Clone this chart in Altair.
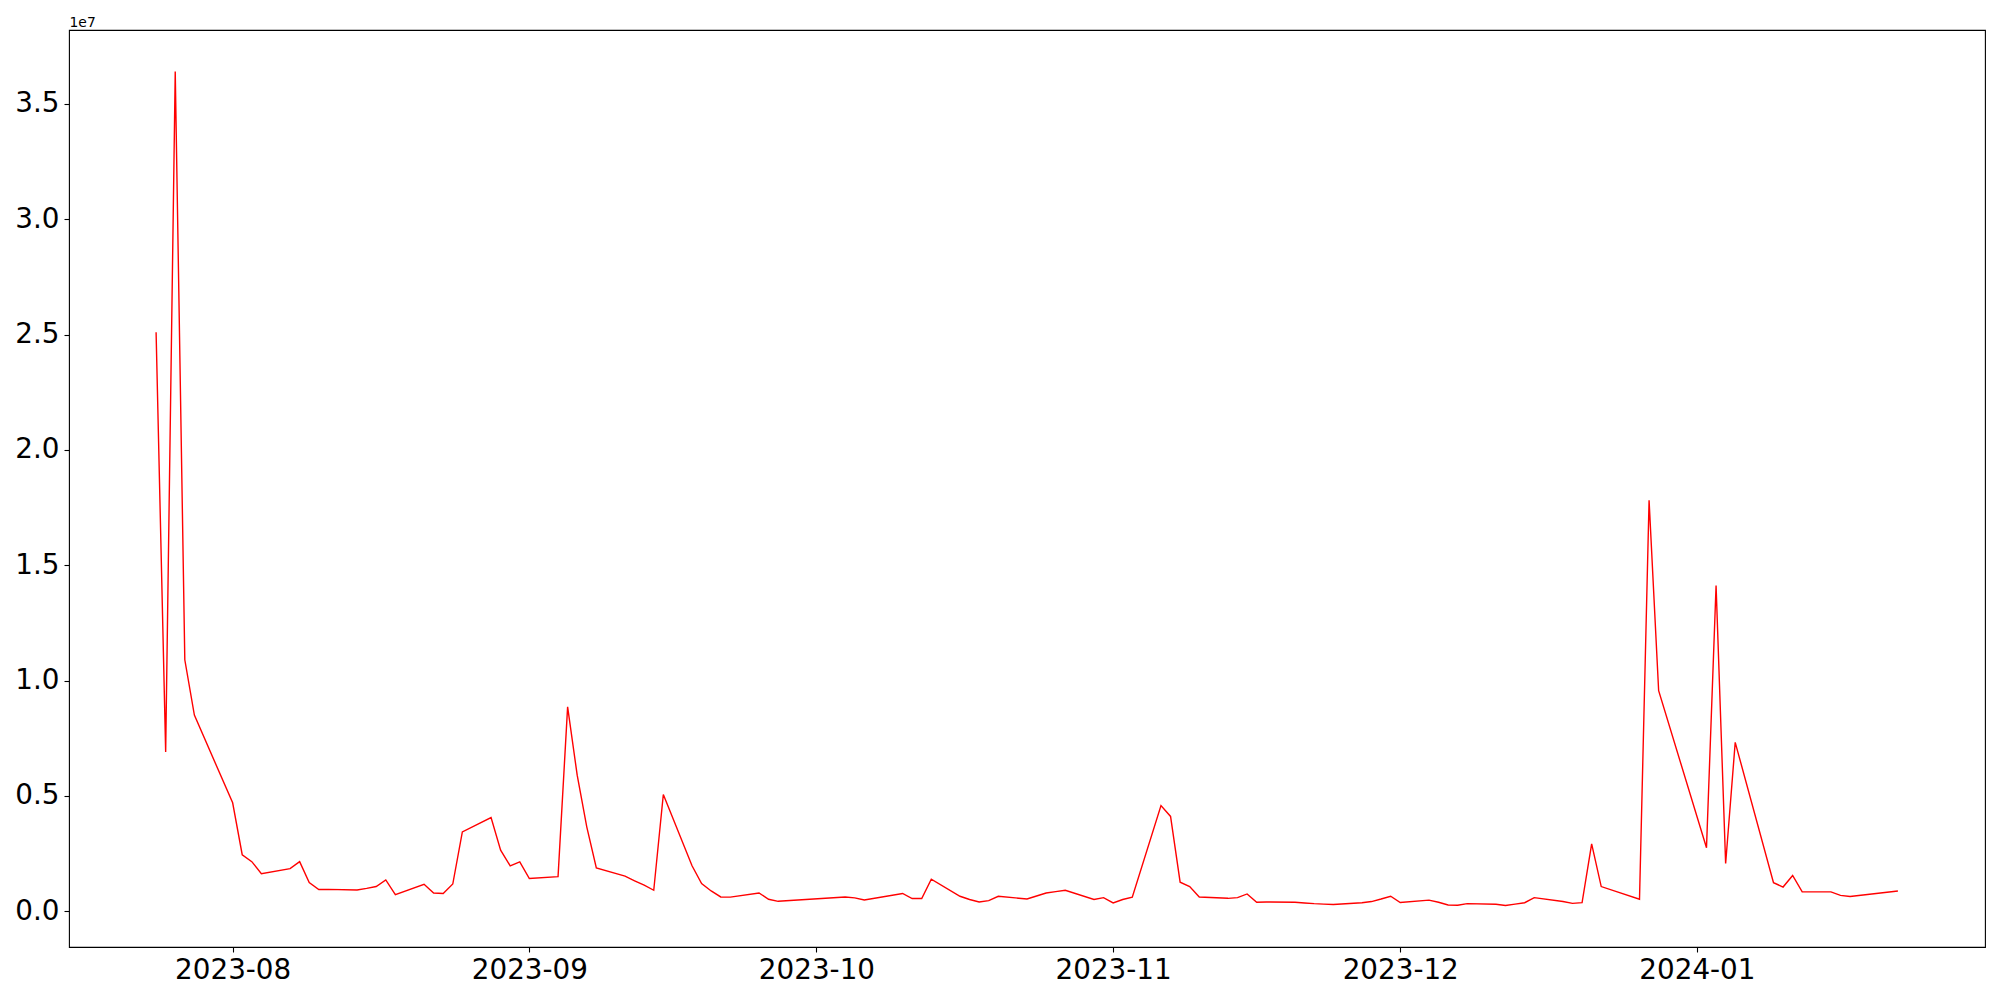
import altair as alt
import pandas as pd

dates = [
    "2023-07-24", "2023-07-25", "2023-07-26", "2023-07-27", "2023-07-28",
    "2023-08-01", "2023-08-02", "2023-08-03", "2023-08-04",
    "2023-08-07", "2023-08-08", "2023-08-09", "2023-08-10", "2023-08-11",
    "2023-08-14", "2023-08-15", "2023-08-16", "2023-08-17", "2023-08-18",
    "2023-08-21", "2023-08-22", "2023-08-23", "2023-08-24", "2023-08-25",
    "2023-08-28", "2023-08-29", "2023-08-30", "2023-08-31", "2023-09-01",
    "2023-09-04", "2023-09-05", "2023-09-06", "2023-09-07", "2023-09-08",
    "2023-09-11", "2023-09-12", "2023-09-13", "2023-09-14", "2023-09-15",
    "2023-09-18", "2023-09-19", "2023-09-20", "2023-09-21", "2023-09-22",
    "2023-09-25", "2023-09-26", "2023-09-27",
    "2023-10-04", "2023-10-05", "2023-10-06",
    "2023-10-10", "2023-10-11", "2023-10-12", "2023-10-13",
    "2023-10-16", "2023-10-17", "2023-10-18", "2023-10-19", "2023-10-20",
    "2023-10-23", "2023-10-24", "2023-10-25", "2023-10-26", "2023-10-27",
    "2023-10-30", "2023-10-31", "2023-11-01", "2023-11-02", "2023-11-03",
    "2023-11-06", "2023-11-07", "2023-11-08", "2023-11-09", "2023-11-10",
    "2023-11-13", "2023-11-14", "2023-11-15", "2023-11-16", "2023-11-17",
    "2023-11-20", "2023-11-21", "2023-11-22", "2023-11-23", "2023-11-24",
    "2023-11-27", "2023-11-28", "2023-11-29", "2023-11-30", "2023-12-01",
    "2023-12-04", "2023-12-05", "2023-12-06", "2023-12-07", "2023-12-08",
    "2023-12-11", "2023-12-12", "2023-12-13", "2023-12-14", "2023-12-15",
    "2023-12-18", "2023-12-19", "2023-12-20", "2023-12-21", "2023-12-22",
    "2023-12-26", "2023-12-27", "2023-12-28",
    "2024-01-02", "2024-01-03", "2024-01-04", "2024-01-05",
    "2024-01-09", "2024-01-10", "2024-01-11", "2024-01-12",
    "2024-01-15", "2024-01-16", "2024-01-17",
    "2024-01-22",
]

values = [
    25.10e6, 6.90e6, 36.40e6, 10.90e6, 8.50e6,
    4.70e6, 2.45e6, 2.15e6, 1.63e6,
    1.85e6, 2.15e6, 1.24e6, 0.94e6, 0.95e6,
    0.92e6, 0.99e6, 1.07e6, 1.36e6, 0.72e6,
    1.17e6, 0.79e6, 0.77e6, 1.18e6, 3.44e6,
    4.06e6, 2.65e6, 1.97e6, 2.14e6, 1.42e6,
    1.50e6, 8.86e6, 5.90e6, 3.66e6, 1.88e6,
    1.52e6, 1.32e6, 1.13e6, 0.91e6, 5.06e6,
    1.97e6, 1.20e6, 0.88e6, 0.62e6, 0.61e6,
    0.79e6, 0.52e6, 0.43e6,
    0.62e6, 0.58e6, 0.49e6,
    0.77e6, 0.55e6, 0.55e6, 1.39e6,
    0.65e6, 0.51e6, 0.40e6, 0.46e6, 0.65e6,
    0.53e6, 0.66e6, 0.79e6, 0.85e6, 0.91e6,
    0.51e6, 0.59e6, 0.36e6, 0.51e6, 0.61e6,
    4.58e6, 4.11e6, 1.26e6, 1.07e6, 0.62e6,
    0.56e6, 0.59e6, 0.75e6, 0.39e6, 0.40e6,
    0.39e6, 0.36e6, 0.33e6, 0.31e6, 0.29e6,
    0.37e6, 0.42e6, 0.53e6, 0.65e6, 0.38e6,
    0.48e6, 0.39e6, 0.27e6, 0.26e6, 0.33e6,
    0.30e6, 0.25e6, 0.31e6, 0.37e6, 0.59e6,
    0.42e6, 0.34e6, 0.37e6, 2.92e6, 1.07e6,
    0.52e6, 17.81e6, 9.56e6,
    2.75e6, 14.12e6, 2.07e6, 7.32e6,
    1.24e6, 1.05e6, 1.55e6, 0.84e6,
    0.84e6, 0.69e6, 0.64e6,
    0.88e6,
]

month_ticks = [(2023, 8), (2023, 9), (2023, 10), (2023, 11), (2023, 12), (2024, 1)]
y_ticks = [0, 5e6, 10e6, 15e6, 20e6, 25e6, 30e6, 35e6]

df = pd.DataFrame({"date": dates, "value": values})

x_domain = [
    alt.DateTime(year=2023, month=7, date=14, hours=21, minutes=36, utc=True),
    alt.DateTime(year=2024, month=1, date=31, hours=2, minutes=24, utc=True),
]
x_tick_vals = [alt.DateTime(year=y, month=m, date=1, utc=True) for (y, m) in month_ticks]

FONT = "DejaVu Sans"

chart = alt.Chart(df).mark_line(color="red", strokeWidth=1.4).encode(
    x=alt.X(
        "date:T",
        scale=alt.Scale(type="utc", domain=x_domain, nice=False),
        axis=alt.Axis(
            values=x_tick_vals,
            labelExpr="utcFormat(datum.value, '%Y-%m')",
            title=None,
            grid=False,
            domain=False,
            tickColor="black",
            tickWidth=1.1,
            tickSize=5,
            labelPadding=4,
            labelFont=FONT,
            labelFontSize=27.8,
            labelColor="black",
            labelFlush=False,
            labelOverlap=False,
        ),
    ),
    y=alt.Y(
        "value:Q",
        scale=alt.Scale(domain=[-1.55e6, 38.2e6], nice=False, zero=False),
        axis=alt.Axis(
            values=y_ticks,
            labelExpr="format(datum.value / 1e7, '.1f')",
            title="1e7",
            titleAngle=0,
            titleX=0,
            titleY=-4,
            titleAlign="left",
            titleBaseline="alphabetic",
            titleFont=FONT,
            titleFontSize=13.9,
            titleFontWeight="normal",
            titleColor="black",
            grid=False,
            domain=False,
            tickColor="black",
            tickWidth=1.1,
            tickSize=5,
            labelPadding=5,
            labelFont=FONT,
            labelFontSize=27.8,
            labelColor="black",
            labelFlush=False,
            labelOverlap=False,
        ),
    ),
).properties(
    width=1916,
    height=917,
    background="white",
    autosize=alt.AutoSizeParams(type="none"),
    padding={"left": 61, "top": 22, "right": 7, "bottom": 45},
).configure_view(
    stroke="black",
    strokeWidth=1.1,
    fill="white",
)

chart.save("out.html", embed_options={"renderer": "svg", "actions": False})
